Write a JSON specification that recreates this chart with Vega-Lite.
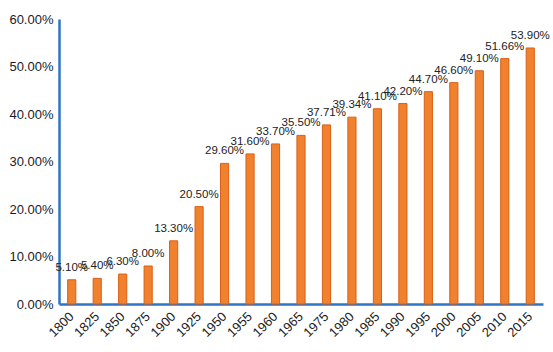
{
  "$schema": "https://vega.github.io/schema/vega-lite/v6.json",
  "width": 484,
  "height": 285,
  "autosize": {"type": "none"},
  "padding": {"left": 59, "top": 19, "right": 10, "bottom": 48},
  "background": "white",
  "config": {"view": {"stroke": null}},
  "data": {"values": [
    {"year": "1800", "share": 0.051},
    {"year": "1825", "share": 0.054},
    {"year": "1850", "share": 0.063},
    {"year": "1875", "share": 0.080},
    {"year": "1900", "share": 0.133},
    {"year": "1925", "share": 0.205},
    {"year": "1950", "share": 0.296},
    {"year": "1955", "share": 0.316},
    {"year": "1960", "share": 0.337},
    {"year": "1965", "share": 0.355},
    {"year": "1975", "share": 0.3771},
    {"year": "1980", "share": 0.3934},
    {"year": "1985", "share": 0.411},
    {"year": "1990", "share": 0.422},
    {"year": "1995", "share": 0.447},
    {"year": "2000", "share": 0.466},
    {"year": "2005", "share": 0.491},
    {"year": "2010", "share": 0.5166},
    {"year": "2015", "share": 0.539}
  ]},
  "encoding": {
    "x": {
      "field": "year", "type": "ordinal", "sort": null,
      "scale": {"paddingInner": 0.68, "paddingOuter": 0.34},
      "axis": {
        "title": null, "labelAngle": -45, "labelAlign": "right", "labelBaseline": "middle",
        "labelFont": "Liberation Sans", "labelFontSize": 13, "labelColor": "#222",
        "domainColor": "#2E75C6", "domainWidth": 2.5, "ticks": false, "labelPadding": 10
      }
    },
    "y": {
      "field": "share", "type": "quantitative",
      "scale": {"domain": [0, 0.6], "nice": false},
      "axis": {
        "title": null, "format": ".2%", "values": [0, 0.1, 0.2, 0.3, 0.4, 0.5, 0.6],
        "grid": false, "ticks": false, "labelPadding": 6,
        "labelFont": "Liberation Sans", "labelFontSize": 13, "labelColor": "#1a1a2e",
        "domainColor": "#2E75C6", "domainWidth": 2.5
      }
    }
  },
  "layer": [
    {"mark": {"type": "bar", "color": "#F0812F", "stroke": "#DB5F14", "strokeWidth": 1}},
    {
      "mark": {"type": "text", "baseline": "alphabetic", "dy": -9, "font": "Liberation Sans", "fontSize": 11.5, "color": "#222"},
      "encoding": {"text": {"field": "share", "type": "quantitative", "format": ".2%"}}
    }
  ]
}
